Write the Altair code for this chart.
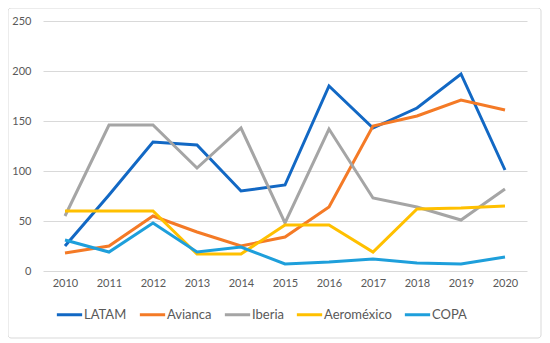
import altair as alt
import pandas as pd

years = list(range(2010, 2021))
airlines = ["LATAM", "Avianca", "Iberia", "Aeroméxico", "COPA"]
latam = [25, 76, 129, 126, 80, 86, 185, 143, 163, 197, 101]
avianca = [18, 25, 55, 39, 25, 34, 64, 145, 155, 171, 161]
iberia = [55, 146, 146, 103, 143, 48, 142, 73, 64, 51, 82]
aeromexico = [60, 60, 60, 17, 17, 46, 46, 19, 62, 63, 65]
copa = [31, 19, 48, 19, 24, 7, 9, 12, 8, 7, 14]
colors = ["#1268C4", "#F47A26", "#A5A5A5", "#FFC000", "#1E9FDB"]
y_ticks = [0, 50, 100, 150, 200, 250]

rows = []
for name, vals in zip(airlines, [latam, avianca, iberia, aeromexico, copa]):
    for yr, v in zip(years, vals):
        rows.append({"year": str(yr), "airline": name, "value": v})
df = pd.DataFrame(rows)

W, H = 484, 250

lines = alt.Chart(df).mark_line(strokeWidth=3).encode(
    x=alt.X("year:O", title=None,
            scale=alt.Scale(type="point", padding=0.5),
            axis=alt.Axis(labelAngle=0, ticks=False, domain=False, grid=False,
                          labelColor="#595959", labelFontSize=11, labelPadding=6,
                          labelFont="Lato")),
    y=alt.Y("value:Q", title=None,
            scale=alt.Scale(domain=[0, 250], nice=False),
            axis=alt.Axis(values=y_ticks, ticks=False, domain=False,
                          gridColor="#D9D9D9", gridWidth=1,
                          labelColor="#595959", labelFontSize=11, labelPadding=12,
                          labelFont="Lato")),
    color=alt.Color("airline:N", sort=airlines,
                    scale=alt.Scale(domain=airlines, range=colors),
                    legend=alt.Legend(title=None, orient="none", direction="horizontal",
                                      legendX=12, legendY=279,
                                      symbolType="stroke", symbolSize=640,
                                      symbolStrokeWidth=3, labelFontSize=13,
                                      labelColor="#595959", labelFont="Lato",
                                      labelOffset=0, columnPadding=6)),
    order=alt.Order("year:O"),
)

frame = alt.Chart(pd.DataFrame({"a": [0]})).mark_rect(
    filled=False, stroke="#D9D9D9", strokeWidth=1, cornerRadius=3
).encode(
    x=alt.value(-35), x2=alt.value(W + 14),
    y=alt.value(-13), y2=alt.value(H + 67),
)

chart = alt.layer(frame, lines).properties(
    width=W, height=H,
    autosize=alt.AutoSizeParams(type="none"),
    padding={"left": 35, "top": 13, "right": 15, "bottom": 70},
    background="white",
).configure_view(stroke=None)

chart.save("out.html", embed_options={"renderer": "svg", "actions": False})
